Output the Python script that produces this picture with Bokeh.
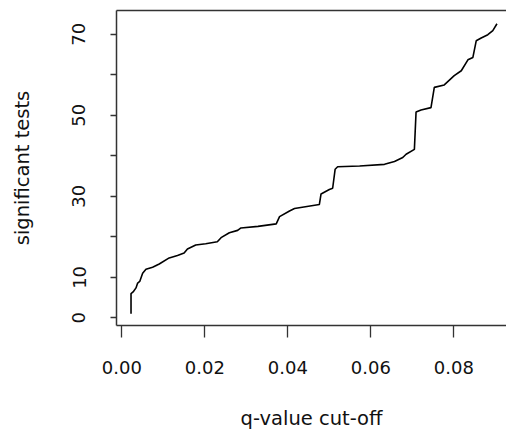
from bokeh.plotting import figure
from bokeh.models import FixedTicker, LinearAxis, Range1d
from bokeh.embed import file_html
from bokeh.resources import INLINE

# q-value cut-off vs. number of tests called significant at that cut-off
q_cutoff = [0.0022, 0.0022, 0.0027, 0.0034, 0.0038, 0.0043, 0.0050, 0.0058, 0.0074,
            0.0090, 0.0114, 0.0134, 0.0150, 0.0158, 0.0178, 0.0202, 0.0230, 0.0239,
            0.0259, 0.0279, 0.0287, 0.0328, 0.0372, 0.0380, 0.0404, 0.0416, 0.0476,
            0.0480, 0.0500, 0.0508, 0.0514, 0.0520, 0.0573, 0.0633, 0.0657, 0.0677,
            0.0685, 0.0705, 0.0709, 0.0721, 0.0745, 0.0753, 0.0777, 0.0801, 0.0818,
            0.0834, 0.0846, 0.0854, 0.0866, 0.0882, 0.0894, 0.0904]
n_significant = [1, 6, 6.4, 7.4, 8.6, 9, 11, 12, 12.5,
                 13.3, 14.8, 15.4, 16, 17, 18, 18.3, 18.8, 19.8,
                 21, 21.6, 22.2, 22.6, 23.2, 25, 26.4, 27, 28,
                 30.6, 31.7, 32, 36.7, 37.3, 37.5, 37.9, 38.6, 39.6,
                 40.4, 41.6, 50.8, 51.3, 51.9, 56.9, 57.5, 59.8, 61,
                 63.7, 64.3, 68.4, 69.1, 69.9, 70.9, 72.6]

x_ticks = [0.00, 0.02, 0.04, 0.06, 0.08]
x_tick_labels = ["0.00", "0.02", "0.04", "0.06", "0.08"]
y_ticks = [0, 10, 20, 30, 40, 50, 60, 70]
y_tick_labels = ["0", "10", "", "30", "", "50", "", "70"]

FONT = "DejaVu Sans"
AXIS_COLOR = "#333333"

p = figure(width=506, height=433, output_backend="svg", toolbar_location=None,
           x_range=Range1d(-0.0013, 0.0927), y_range=Range1d(-1.88, 75.88),
           min_border_left=116, min_border_right=0, min_border_top=10,
           min_border_bottom=108, x_axis_label="q-value cut-off",
           y_axis_label="significant tests")
p.outline_line_color = None
p.grid.visible = False
p.background_fill_color = "white"
p.border_fill_color = "white"

p.line(q_cutoff, n_significant, line_color="black", line_width=1.6)

xa = p.xaxis[0]
xa.ticker = FixedTicker(ticks=x_ticks)
xa.major_label_overrides = dict(zip(x_ticks, x_tick_labels))
xa.major_tick_out = 12
xa.major_tick_in = 0
xa.minor_tick_line_color = None
xa.major_label_standoff = 23
xa.axis_label_standoff = 30

ya = p.yaxis[0]
ya.ticker = FixedTicker(ticks=y_ticks)
ya.major_label_overrides = dict(zip(y_ticks, y_tick_labels))
ya.major_label_orientation = "vertical"
ya.major_tick_out = 6
ya.major_tick_in = 0
ya.minor_tick_line_color = None
ya.major_label_standoff = 25
ya.axis_label_standoff = 36

for ax in (xa, ya):
    ax.axis_line_color = AXIS_COLOR
    ax.axis_line_width = 1.5
    ax.major_tick_line_color = AXIS_COLOR
    ax.major_tick_line_width = 1.3
    ax.major_label_text_font = FONT
    ax.major_label_text_font_size = "18px"
    ax.major_label_text_color = "#111111"
    ax.axis_label_text_font = FONT
    ax.axis_label_text_font_size = "19.5px"
    ax.axis_label_text_font_style = "normal"
    ax.axis_label_text_color = "#111111"

# top edge of the plotting box
top = LinearAxis(ticker=FixedTicker(ticks=[]), axis_line_color=AXIS_COLOR,
                 axis_line_width=1.5, major_tick_line_color=None,
                 minor_tick_line_color=None, major_label_text_font_size="0px")
p.add_layout(top, "above")

open("out.html", "w").write(file_html(p, INLINE))
